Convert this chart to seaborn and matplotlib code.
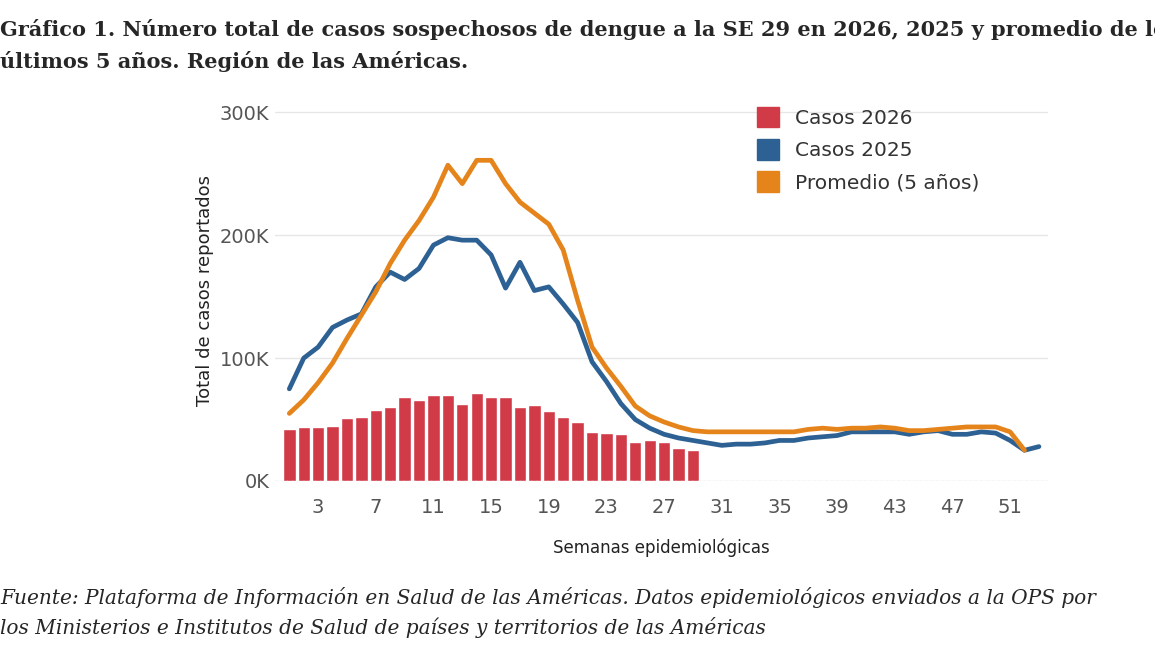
import matplotlib
matplotlib.use("Agg")
import matplotlib.pyplot as plt
import seaborn as sns
import pandas as pd
from matplotlib.patches import Patch

weeks_2026 = list(range(1, 30))
casos_2026 = [42, 44, 44, 45, 51, 52, 58, 60, 68, 66, 70, 70, 63, 72, 68, 68, 60, 62, 57, 52,
              48, 40, 39, 38, 32, 33, 32, 27, 25]
weeks_2025 = list(range(1, 54))
casos_2025 = [75, 100, 109, 125, 131, 136, 158, 170, 164, 173, 192, 198, 196, 196, 184, 157, 178, 155,
              158, 144, 129, 97, 81, 63, 50, 43, 38, 35, 33, 31, 29,
              30, 30, 31, 33, 33, 35, 36, 37, 40, 40, 40, 40, 38, 40, 41, 38, 38, 40, 39, 33, 25, 28]
weeks_prom = list(range(1, 53))
promedio = [55, 66, 80, 96, 116, 135, 154, 177, 196, 212, 231, 257, 242, 261, 261, 242, 227, 218,
            209, 188, 147, 109, 92, 77, 61, 53, 48, 44, 41, 40, 40,
            40, 40, 40, 40, 40, 42, 43, 42, 43, 43, 44, 43, 41, 41, 42, 43, 44, 44, 44, 40, 25]
yticks = [0, 100, 200, 300]
ytick_labels = ["0K", "100K", "200K", "300K"]
xticks = [3, 7, 11, 15, 19, 23, 27, 31, 35, 39, 43, 47, 51]

RED, BLUE, ORANGE = "#d13a47", "#2e6193", "#e5841b"

sns.set_style("white")
fig = plt.figure(figsize=(11.55, 6.5), dpi=100)
ax = fig.add_axes([0.238, 0.26, 0.669, 0.586])

ax.bar(weeks_2026, casos_2026, width=0.86, color=RED, zorder=2)
sns.lineplot(x=weeks_2025, y=casos_2025, color=BLUE, lw=3.4, ax=ax, zorder=3)
sns.lineplot(x=weeks_prom, y=promedio, color=ORANGE, lw=3.4, ax=ax, zorder=4)

ax.set_xlim(0.0, 53.6)
ax.set_ylim(0, 310)
ax.set_yticks(yticks)
ax.set_yticklabels(ytick_labels)
ax.set_xticks(xticks)
ax.tick_params(axis="both", length=0, labelsize=14, colors="#555555")
ax.tick_params(axis="x", pad=12)
ax.tick_params(axis="y", pad=4)
ax.yaxis.grid(True, color="#e6e6e6", lw=1)
for s in ax.spines.values():
    s.set_visible(False)
ax.axhline(0, color="#dddddd", lw=1, ls=(0, (1, 3)))
ax.set_xlabel("Semanas epidemiológicas", fontsize=12, color="#222222", labelpad=16)
ax.set_ylabel("Total de casos reportados", fontsize=13, color="#222222", labelpad=4)

handles = [Patch(color=RED, label="Casos 2026"), Patch(color=BLUE, label="Casos 2025"),
           Patch(color=ORANGE, label="Promedio (5 años)")]
ax.legend(handles=handles, loc="upper left", bbox_to_anchor=(0.6, 1.03), frameon=False,
          fontsize=14.5, handlelength=1.1, handleheight=1.2, labelspacing=0.55, labelcolor="#333333")

fig.text(0.0, 0.955, "Gráfico 1. Número total de casos sospechosos de dengue a la SE 29 en 2026, 2025 y promedio de los",
         fontsize=15, fontweight="bold", family="DejaVu Serif", va="center")
fig.text(0.0, 0.905, "últimos 5 años. Región de las Américas.",
         fontsize=15, fontweight="bold", family="DejaVu Serif", va="center")
fig.text(0.0, 0.08, "Fuente: Plataforma de Información en Salud de las Américas. Datos epidemiológicos enviados a la OPS por",
         fontsize=14.5, style="italic", family="DejaVu Serif", va="center")
fig.text(0.0, 0.035, "los Ministerios e Institutos de Salud de países y territorios de las Américas",
         fontsize=14.5, style="italic", family="DejaVu Serif", va="center")

fig.savefig("out.png", dpi=100)
